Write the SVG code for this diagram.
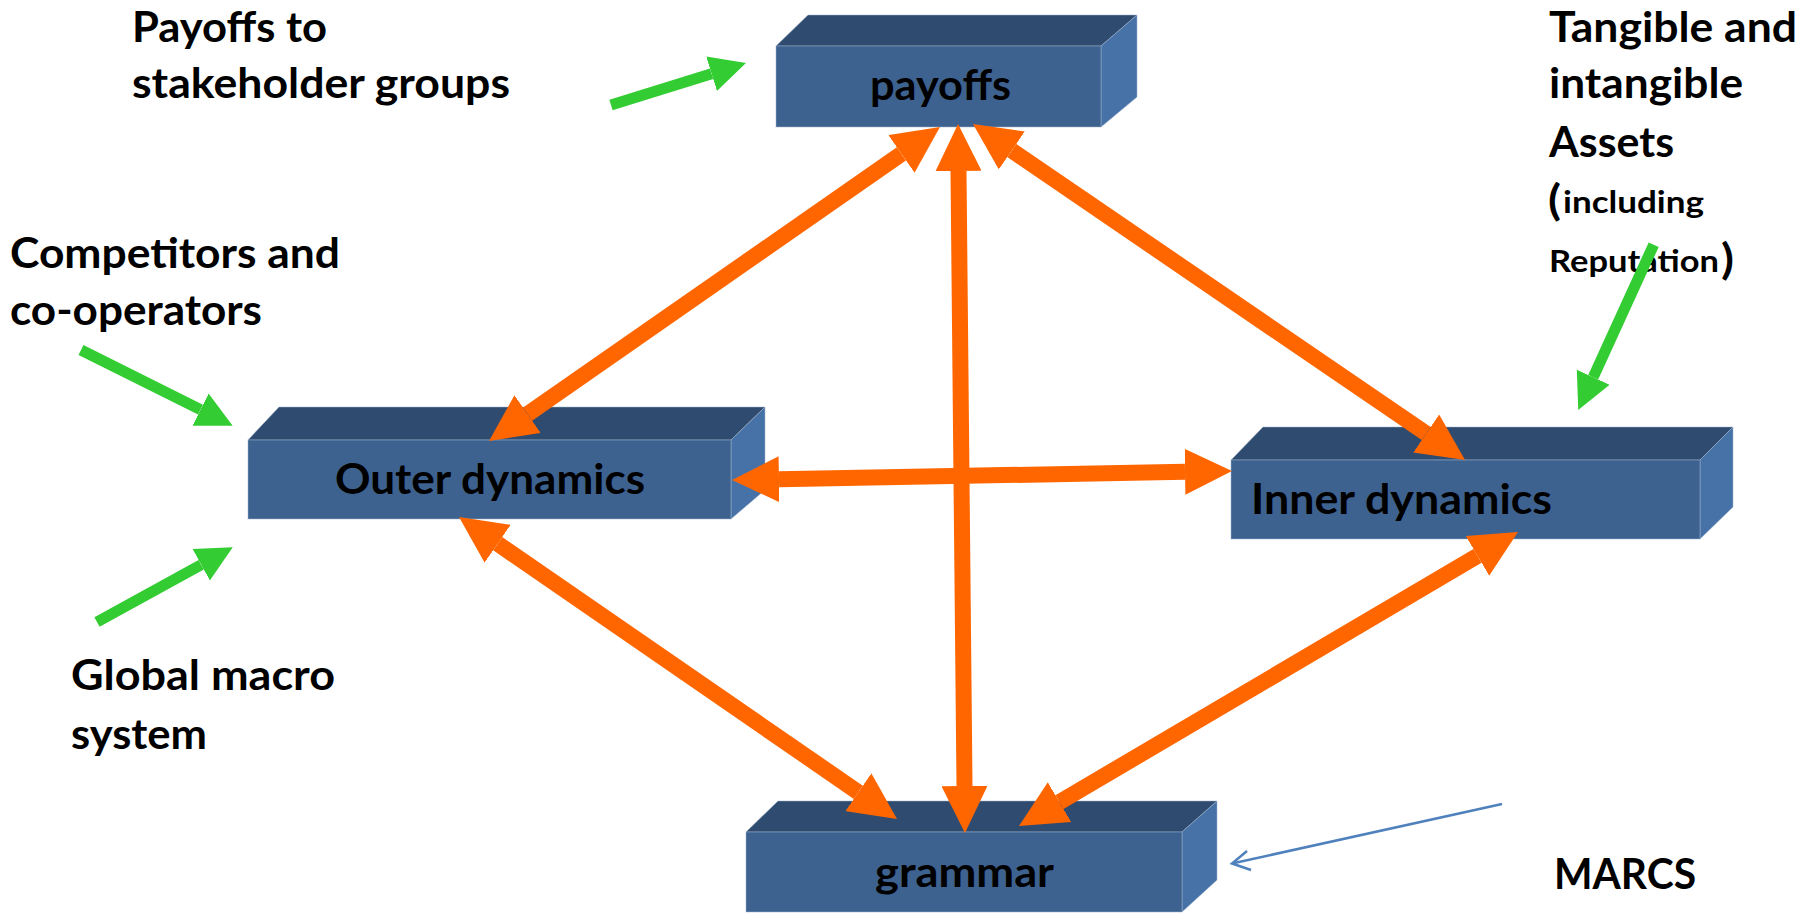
<svg xmlns="http://www.w3.org/2000/svg" width="1816" height="914" viewBox="0 0 1816 914">
<style>
text{font-family:Lato,"Open Sans","Liberation Sans",sans-serif;font-weight:bold;fill:#000}
.big{font-size:42px}
.sm{font-size:31px}
.par{font-size:42px}
.top{fill:#2f4b6f}
.front{fill:#3d6290}
.side{fill:#4672a8}
.box polygon,.box rect{stroke:#9fb3cc;stroke-width:1;stroke-opacity:0.5}
.orange{stroke:#ff6600;stroke-width:16;fill:none;marker-start:url(#oh);marker-end:url(#oh)}
.green{stroke:#33cc33;stroke-width:11;fill:none;marker-end:url(#gh)}
.blue{stroke:#4f81bd;stroke-width:2.5;fill:none}
</style>
<defs>
<marker id="oh" viewBox="0 0 47 46" refX="0" refY="23" markerWidth="47" markerHeight="46" markerUnits="userSpaceOnUse" orient="auto-start-reverse">
<path d="M0,0 L47,23 L0,46 Z" fill="#ff6600"/>
</marker>
<marker id="gh" viewBox="0 0 36 36" refX="0" refY="18" markerWidth="36" markerHeight="36" markerUnits="userSpaceOnUse" orient="auto">
<path d="M0,0 L36,18 L0,36 Z" fill="#33cc33"/>
</marker>
</defs>
<rect width="1816" height="914" fill="#fff"/>

<g id="label-payoffs-to">
<text class="big" x="132" y="42" textLength="195" lengthAdjust="spacingAndGlyphs">Payoffs to</text>
<text class="big" x="132" y="98" textLength="378" lengthAdjust="spacingAndGlyphs">stakeholder groups</text>
</g>
<g id="label-competitors">
<text class="big" x="10" y="268" textLength="330" lengthAdjust="spacingAndGlyphs">Competitors and</text>
<text class="big" x="10" y="325" textLength="252" lengthAdjust="spacingAndGlyphs">co-operators</text>
</g>
<g id="label-global">
<text class="big" x="71" y="690" textLength="264" lengthAdjust="spacingAndGlyphs">Global macro</text>
<text class="big" x="71" y="749" textLength="136" lengthAdjust="spacingAndGlyphs">system</text>
</g>
<g id="label-assets">
<text class="big" x="1549" y="42" textLength="248" lengthAdjust="spacingAndGlyphs">Tangible and</text>
<text class="big" x="1549" y="98" textLength="194" lengthAdjust="spacingAndGlyphs">intangible</text>
<text class="big" x="1549" y="157" textLength="125" lengthAdjust="spacingAndGlyphs">Assets</text>
<text class="par" x="1548" y="215" textLength="13" lengthAdjust="spacingAndGlyphs">(</text>
<text class="sm" x="1563" y="213" textLength="141" lengthAdjust="spacingAndGlyphs">including</text>
<text class="sm" x="1549" y="272" textLength="170" lengthAdjust="spacingAndGlyphs">Reputation</text>
<text class="par" x="1721" y="274" textLength="13" lengthAdjust="spacingAndGlyphs">)</text>
</g>
<g id="label-marcs">
<text class="big" x="1554" y="889" textLength="142" lengthAdjust="spacingAndGlyphs">MARCS</text>
</g>

<g id="node-payoffs" class="box">
<polygon class="top" points="776,46 808,15 1137,15 1101,46"/>
<polygon class="side" points="1101,46 1137,15 1137,97 1101,127"/>
<rect class="front" x="776" y="46" width="325" height="81"/>
<text class="big" x="870" y="100" textLength="141" lengthAdjust="spacingAndGlyphs">payoffs</text>
</g>
<g id="node-outer" class="box">
<polygon class="top" points="248,440 279,407 765,407 731,440"/>
<polygon class="side" points="731,440 765,407 765,490 731,519"/>
<rect class="front" x="248" y="440" width="483" height="79"/>
<text class="big" x="335" y="494" textLength="310" lengthAdjust="spacingAndGlyphs">Outer dynamics</text>
</g>
<g id="node-inner" class="box">
<polygon class="top" points="1231,460 1263,427 1733,427 1700,460"/>
<polygon class="side" points="1700,460 1733,427 1733,507 1700,539"/>
<rect class="front" x="1231" y="460" width="469" height="79"/>
<text class="big" x="1251" y="514" textLength="301" lengthAdjust="spacingAndGlyphs">Inner dynamics</text>
</g>
<g id="node-grammar" class="box">
<polygon class="top" points="746,832 778,801 1217,801 1182,832"/>
<polygon class="side" points="1182,832 1217,801 1217,880 1182,912"/>
<rect class="front" x="746" y="832" width="436" height="80"/>
<text class="big" x="875" y="887" textLength="179" lengthAdjust="spacingAndGlyphs">grammar</text>
</g>

<g id="connectors">
<line class="orange" x1="901.4" y1="153.9" x2="527.6" y2="414.1"/>
<line class="orange" x1="958.5" y1="171" x2="964.5" y2="786"/>
<line class="orange" x1="1011.8" y1="150.5" x2="1426.2" y2="433.5"/>
<line class="orange" x1="779" y1="479.2" x2="1185" y2="471.8"/>
<line class="orange" x1="497.7" y1="543.7" x2="858.3" y2="792.3"/>
<line class="orange" x1="1477.5" y1="555.9" x2="1059.5" y2="802.1"/>
<line class="green" x1="611" y1="105" x2="711.6" y2="73.7"/>
<line class="green" x1="81" y1="350" x2="200.5" y2="409.6"/>
<line class="green" x1="97" y1="622" x2="201.2" y2="564.7"/>
<line class="green" x1="1653.7" y1="244.7" x2="1593.2" y2="377.2"/>
<line class="blue" x1="1502" y1="804" x2="1232" y2="863.5"/>
<polyline class="blue" points="1247,851 1232,863.5 1251,870"/>
</g>
</svg>
